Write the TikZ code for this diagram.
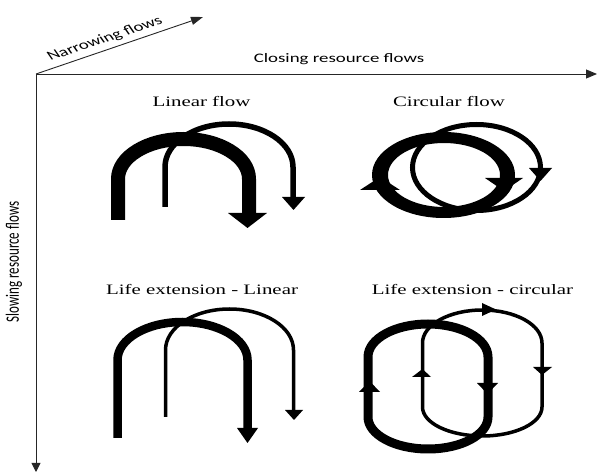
\documentclass[tikz,border=0pt]{standalone}
\usepackage{fontspec}
\setmainfont{Liberation Serif}
\newfontfamily\calibrifont{Carlito}
\usetikzlibrary{arrows.meta}
\begin{document}
\begin{tikzpicture}[x=1pt,y=-1pt,
  axis/.style={line width=0.9pt, draw=black!85},
  ttl/.style={font=\fontsize{14.4}{16}\selectfont, inner sep=0pt, anchor=base, xscale=1.45, transform shape},
  axl/.style={font=\calibrifont\fontsize{13}{15}\selectfont, inner sep=0pt, transform shape},
  flow/.style={line cap=butt, line join=round},
  head/.style={fill=black}]
\useasboundingbox (0,0) rectangle (598,473);

% axes
\coordinate (O) at (36,74);
\coordinate (Xend) at (597,74);
\coordinate (Yend) at (36,472);
\coordinate (Zend) at (203,17);
\draw[axis,-{Triangle[length=11pt,width=9pt]}] (O) -- (Xend);
\draw[axis,-{Triangle[length=9pt,width=9pt]}] (O) -- (Yend);
\draw[axis,-{Triangle[length=12pt,width=8pt]}] (O) -- (Zend);
\node[axl, xscale=1.45] (close) at (339,59) {Closing resource flows};
\node[axl, xscale=1.45, rotate=90] (slow) at (14,262) {Slowing resource flows};
\node[axl, xscale=1.45, rotate=25.7] (narrow) at (105,39) {Narrowing flows};

% titles
\node[ttl] (t1) at (201.5,107) {Linear flow};
\node[ttl] (t2) at (449,107) {Circular flow};
\node[ttl] (t3) at (202,295) {Life extension - Linear};
\node[ttl] (t4) at (472.5,295) {Life extension - circular};

% Linear flow
\draw[flow, line width=14pt] (118,220) -- (118,179)
  arc[start angle=180,end angle=360,x radius=65.5,y radius=40] -- (249,213);
\fill[head] (228,213) -- (267,213) -- (247.5,228) -- cycle;
\draw[flow, line width=5.5pt] (165,207) -- (165,167)
  arc[start angle=180,end angle=360,x radius=64,y radius=43] -- (293,197);
\fill[head] (282,197) -- (305,197) -- (293.5,210) -- cycle;

% Circular flow
\fill[even odd rule] (443.5,175) ellipse[x radius=71.5,y radius=43]
  (444,175) ellipse[x radius=56,y radius=32];
\fill[head] (360,190) -- (400,190) -- (380,177) -- cycle;
\fill[head] (485,178) -- (523,178) -- (504,191) -- cycle;
\draw[line width=5pt] (476.5,167.5) ellipse[x radius=64,y radius=43];
\fill[head] (529,168) -- (552,168) -- (540.5,181) -- cycle;

% Life extension - Linear
\draw[flow, line width=8.5pt] (117.5,438) -- (117.5,360)
  arc[start angle=180,end angle=360,x radius=65,y radius=38] -- (247.5,428);
\fill[head] (237,428) -- (258,428) -- (247.5,443) -- cycle;
\draw[flow, line width=3.5pt] (165.5,417) -- (165.5,350)
  arc[start angle=180,end angle=360,x radius=64,y radius=41] -- (293.5,410);
\fill[head] (285,410) -- (303,410) -- (294,420) -- cycle;

% Life extension - circular
\draw[flow, line width=9pt] (368,390) -- (368,357)
  arc[start angle=180,end angle=360,x radius=60,y radius=33] -- (488,417)
  arc[start angle=0,end angle=180,x radius=60,y radius=32] -- cycle;
\fill[head] (359,392) -- (380,392) -- (369.5,381) -- cycle;
\fill[head] (477,383) -- (498,383) -- (487.5,394) -- cycle;
\draw[flow, line width=3.5pt] (422.5,380) -- (422.5,343)
  arc[start angle=180,end angle=360,x radius=59.75,y radius=33] -- (542,407)
  arc[start angle=0,end angle=180,x radius=59.75,y radius=29] -- cycle;
\fill[head] (482,303) -- (482,316) -- (496,309.5) -- cycle;
\fill[head] (412,377) -- (431,377) -- (422.5,369) -- cycle;
\fill[head] (533,367) -- (552,367) -- (542,375) -- cycle;
\end{tikzpicture}
\end{document}
